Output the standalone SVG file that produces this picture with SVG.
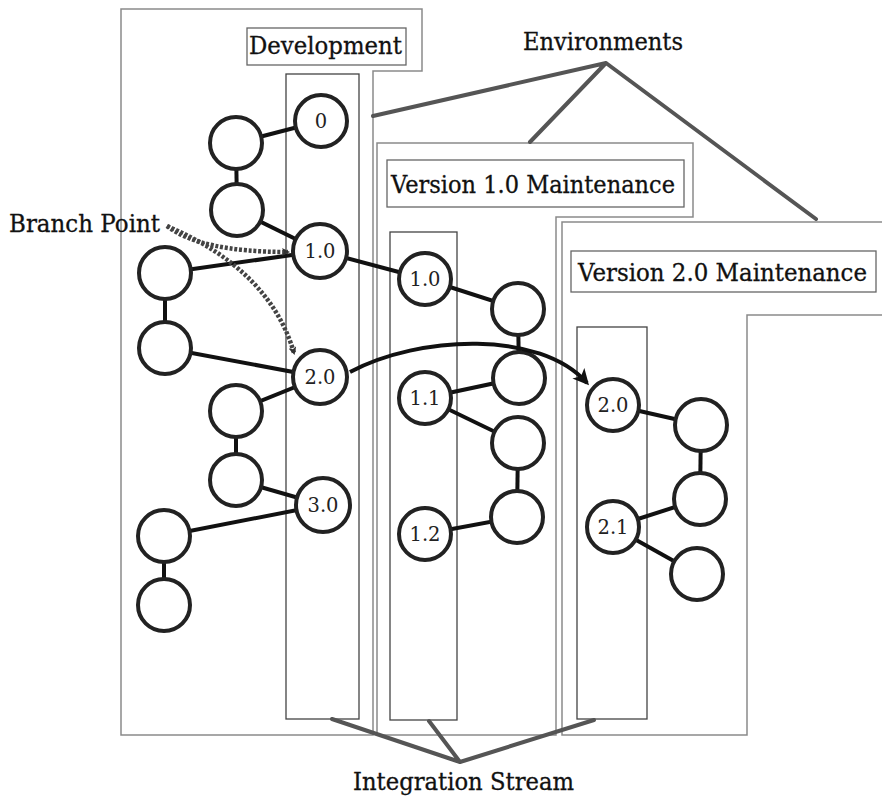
<svg xmlns="http://www.w3.org/2000/svg" width="882" height="796" viewBox="0 0 882 796">
<style>
.panel{fill:none;stroke:#8a8a8a;stroke-width:1.5}
.lbox{fill:#fff;stroke:#666;stroke-width:1.3}
.col{fill:none;stroke:#444;stroke-width:1.3}
.lbl{font-family:"DejaVu Serif","Liberation Serif",serif;font-size:23.3px;fill:#111;stroke:#111;stroke-width:0.3}
.num{font-family:"DejaVu Serif","Liberation Serif",serif;font-size:19.5px;fill:#222;text-anchor:middle}
.node circle{fill:#fff;stroke:#222;stroke-width:4}
.edge{stroke:#111;stroke-width:4;fill:none}
.ptr{stroke:#555;stroke-width:4;fill:none;stroke-linecap:round}
.branch{stroke:#444;stroke-width:4.5;fill:none;stroke-dasharray:3 1.8}
</style>
<defs>
<marker id="ah" markerWidth="8" markerHeight="8" refX="6" refY="4" orient="auto" markerUnits="userSpaceOnUse" viewBox="0 0 8 8">
<path d="M0,0 L8,4 L0,8 L2,4 Z" fill="#333"/>
</marker>
<marker id="bigah" markerWidth="18" markerHeight="18" refX="13" refY="9" orient="auto" markerUnits="userSpaceOnUse" viewBox="0 0 18 18">
<path d="M0,1 L16,9 L0,17 L4,9 Z" fill="#111"/>
</marker>
</defs>

<g id="panels">
<polygon class="panel" points="121,9 422,9 422,71 373,71 373,735 121,735"/>
<polygon class="panel" points="377,143 693,143 693,217 556,217 556,735 377,735"/>
<polygon class="panel" points="562,222 886,222 886,315 747,315 747,735 562,735"/>
<rect class="col" x="286" y="74" width="73" height="645"/>
<rect class="col" x="390" y="232" width="67" height="488"/>
<rect class="col" x="577" y="327" width="70" height="392"/>
</g>

<g id="label-development">
<rect class="lbox" x="247" y="28" width="159" height="37"/>
<text class="lbl" x="249" y="54" textLength="153" lengthAdjust="spacingAndGlyphs">Development</text>
</g>
<g id="label-v1">
<rect class="lbox" x="387" y="160" width="297" height="47"/>
<text class="lbl" x="391" y="193" textLength="284" lengthAdjust="spacingAndGlyphs">Version 1.0 Maintenance</text>
</g>
<g id="label-v2">
<rect class="lbox" x="571" y="251" width="305" height="41"/>
<text class="lbl" x="578" y="281" textLength="289" lengthAdjust="spacingAndGlyphs">Version 2.0 Maintenance</text>
</g>
<g id="label-environments">
<text class="lbl" x="523" y="50" textLength="160" lengthAdjust="spacingAndGlyphs">Environments</text>
</g>
<g id="label-branch">
<text class="lbl" x="9" y="232" textLength="151" lengthAdjust="spacingAndGlyphs">Branch Point</text>
</g>
<g id="label-integration">
<text class="lbl" x="353" y="790" textLength="221" lengthAdjust="spacingAndGlyphs">Integration Stream</text>
</g>

<g id="connectors">
<line class="edge" x1="321" y1="121" x2="236" y2="143"/>
<line class="edge" x1="236" y1="143" x2="237" y2="210"/>
<line class="edge" x1="237" y1="210" x2="320" y2="251"/>
<line class="edge" x1="165" y1="273" x2="320" y2="251"/>
<line class="edge" x1="165" y1="273" x2="165" y2="348"/>
<line class="edge" x1="165" y1="348" x2="320" y2="377"/>
<line class="edge" x1="320" y1="377" x2="236" y2="411"/>
<line class="edge" x1="236" y1="411" x2="236" y2="480"/>
<line class="edge" x1="236" y1="480" x2="323" y2="505"/>
<line class="edge" x1="323" y1="505" x2="164" y2="536"/>
<line class="edge" x1="164" y1="536" x2="164" y2="605"/>
<line class="edge" x1="320" y1="251" x2="425" y2="279"/>
<line class="edge" x1="425" y1="279" x2="518" y2="309"/>
<line class="edge" x1="518" y1="309" x2="519" y2="378"/>
<line class="edge" x1="425" y1="398" x2="519" y2="378"/>
<line class="edge" x1="425" y1="398" x2="518" y2="443"/>
<line class="edge" x1="518" y1="443" x2="517" y2="517"/>
<line class="edge" x1="425" y1="534" x2="517" y2="517"/>
<line class="edge" x1="613" y1="405" x2="701" y2="425"/>
<line class="edge" x1="701" y1="425" x2="700" y2="499"/>
<line class="edge" x1="613" y1="527" x2="700" y2="499"/>
<line class="edge" x1="613" y1="527" x2="697" y2="574"/>
<path class="ptr" d="M606,63 L373,116 M606,63 L530,142 M606,63 L816,219"/>
<path class="ptr" d="M460,762 L332,719 M460,762 L429,721 M460,762 L594,720"/>
</g>

<g id="nodes">
<g id="n-dev-0" class="node"><circle cx="321" cy="121" r="26"/><text class="num" x="321" y="128">0</text></g>
<g id="n-dev-a" class="node"><circle cx="236" cy="143" r="26"/></g>
<g id="n-dev-b" class="node"><circle cx="237" cy="210" r="26"/></g>
<g id="n-dev-10" class="node"><circle cx="320" cy="251" r="27"/><text class="num" x="320" y="258">1.0</text></g>
<g id="n-dev-c" class="node"><circle cx="165" cy="273" r="26"/></g>
<g id="n-dev-d" class="node"><circle cx="165" cy="348" r="26"/></g>
<g id="n-dev-20" class="node"><circle cx="320" cy="377" r="27"/><text class="num" x="320" y="384">2.0</text></g>
<g id="n-dev-e" class="node"><circle cx="236" cy="411" r="26"/></g>
<g id="n-dev-f" class="node"><circle cx="236" cy="480" r="26"/></g>
<g id="n-dev-30" class="node"><circle cx="323" cy="505" r="27"/><text class="num" x="323" y="512">3.0</text></g>
<g id="n-dev-g" class="node"><circle cx="164" cy="536" r="26"/></g>
<g id="n-dev-h" class="node"><circle cx="164" cy="605" r="26"/></g>
<g id="n-v1-10" class="node"><circle cx="425" cy="279" r="26"/><text class="num" x="425" y="286">1.0</text></g>
<g id="n-v1-i" class="node"><circle cx="518" cy="309" r="26"/></g>
<g id="n-v1-j" class="node"><circle cx="519" cy="378" r="26"/></g>
<g id="n-v1-11" class="node"><circle cx="425" cy="398" r="26"/><text class="num" x="425" y="405">1.1</text></g>
<g id="n-v1-k" class="node"><circle cx="518" cy="443" r="26"/></g>
<g id="n-v1-l" class="node"><circle cx="517" cy="517" r="26"/></g>
<g id="n-v1-12" class="node"><circle cx="425" cy="534" r="26"/><text class="num" x="425" y="541">1.2</text></g>
<g id="n-v2-20" class="node"><circle cx="613" cy="405" r="26"/><text class="num" x="613" y="412">2.0</text></g>
<g id="n-v2-m" class="node"><circle cx="701" cy="425" r="26"/></g>
<g id="n-v2-n" class="node"><circle cx="700" cy="499" r="26"/></g>
<g id="n-v2-21" class="node"><circle cx="613" cy="527" r="26"/><text class="num" x="613" y="534">2.1</text></g>
<g id="n-v2-o" class="node"><circle cx="697" cy="574" r="26"/></g>
</g>

<g id="arrows">
<path class="branch" d="M167,226 Q200,252 288,252" marker-end="url(#ah)"/>
<path class="branch" d="M167,226 Q270,270 294,353" marker-end="url(#ah)"/>
<path class="edge" d="M350,372 C420,335 540,330 587,383" marker-end="url(#bigah)"/>
</g>
</svg>
